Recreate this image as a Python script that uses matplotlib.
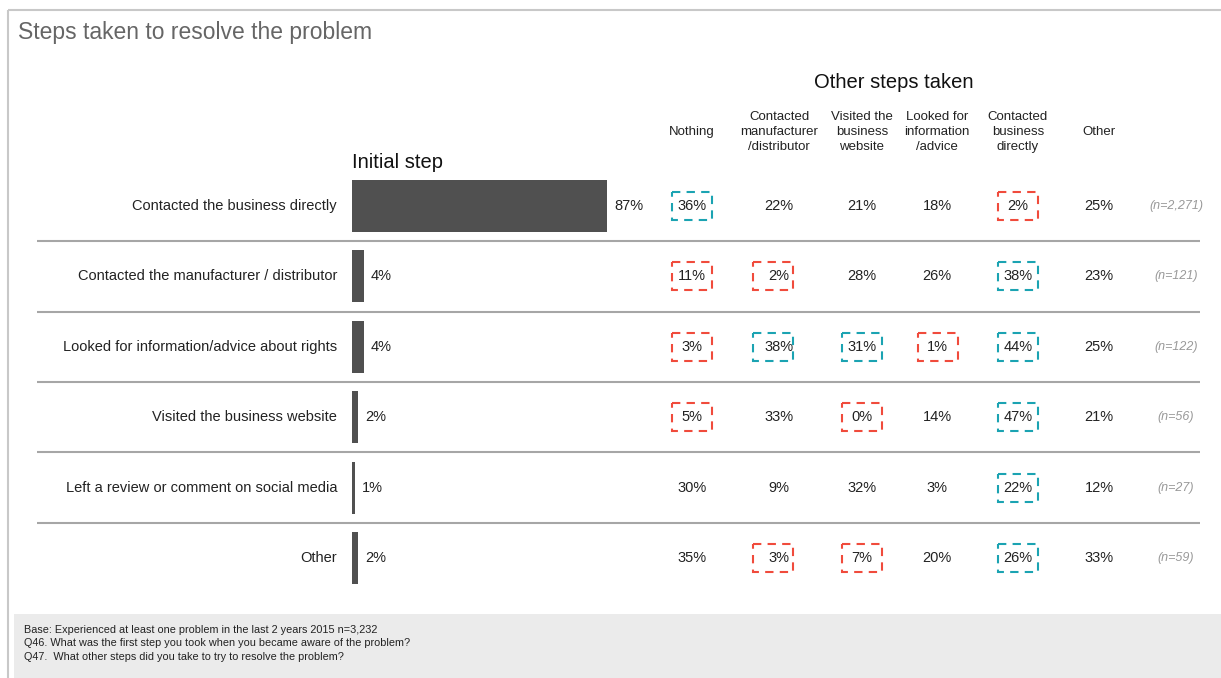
import numpy as np
import matplotlib.pyplot as plt
from matplotlib.patches import Rectangle

plt.rcParams['font.family'] = ['Liberation Sans', 'DejaVu Sans']

# data
initial_steps = ["Contacted the business directly",
                 "Contacted the manufacturer / distributor",
                 "Looked for information/advice about rights",
                 "Visited the business website",
                 "Left a review or comment on social media",
                 "Other"]
initial_pct = [87, 4, 4, 2, 1, 2]

other_cols = ["Nothing",
              "Contacted\nmanufacturer\n/distributor",
              "Visited the\nbusiness\nwebsite",
              "Looked for\ninformation\n/advice",
              "Contacted\nbusiness\ndirectly",
              "Other"]
other_pct = [[36, 22, 21, 18, 2, 25],
             [11, 2, 28, 26, 38, 23],
             [3, 38, 31, 1, 44, 25],
             [5, 33, 0, 14, 47, 21],
             [30, 9, 32, 3, 22, 12],
             [35, 3, 7, 20, 26, 33]]
# highlight: 1 = higher (teal), -1 = lower (red), 0 = none
highlight = [[1, 0, 0, 0, -1, 0],
             [-1, -1, 0, 0, 1, 0],
             [-1, 1, 1, -1, 1, 0],
             [-1, 0, -1, 0, 1, 0],
             [0, 0, 0, 0, 1, 0],
             [0, -1, -1, 0, 1, 0]]
base_n = ["(n=2,271)", "(n=121)", "(n=122)", "(n=56)", "(n=27)", "(n=59)"]

footnotes = ["Base: Experienced at least one problem in the last 2 years 2015 n=3,232",
             "Q46. What was the first step you took when you became aware of the problem?",
             "Q47.  What other steps did you take to try to resolve the problem?"]

W, H = 1221, 678
fig = plt.figure(figsize=(W / 100, H / 100), dpi=100)

# overlay axes in pixel coordinates for the layout
ax = fig.add_axes([0, 0, 1, 1])
ax.set_xlim(0, W)
ax.set_ylim(H, 0)
ax.axis('off')

# row layout
row0, dy = 206, 70.4
row_y = [row0 + i * dy for i in range(len(initial_steps))]

# bar axes: x in percent, y in row index
bar_left, px_per_pct = 352, 2.93
top_px = row0 - dy / 2
bot_px = row_y[-1] + dy / 2
bax = fig.add_axes([bar_left / W, 1 - bot_px / H, 100 * px_per_pct / W, (bot_px - top_px) / H])
bax.set_xlim(0, 100)
bax.set_ylim(len(initial_steps) - 0.5, -0.5)
bax.axis('off')
bax.barh(np.arange(len(initial_pct)), initial_pct, height=0.74, color='#505050')
for i, v in enumerate(initial_pct):
    bax.text(v + 2.4, i, f"{v}%", va='center', ha='left', fontsize=10.5, color='#222222')

# frame and footer
ax.plot([8, W], [10, 10], color='#C8C8C8', lw=1.5, solid_capstyle='butt')
ax.plot([8, 8], [10, H], color='#C8C8C8', lw=1.5, solid_capstyle='butt')
ax.add_patch(Rectangle((14, 614), W - 14, H - 614, color='#EBEBEB', lw=0))
for k, line in enumerate(footnotes):
    ax.text(24, 630 + k * 13.5, line, fontsize=7.8, color='#222222', va='center', ha='left')

# titles
ax.text(18, 32, "Steps taken to resolve the problem", fontsize=16.5, color='#666666',
        va='center', ha='left')
ax.text(894, 82, "Other steps taken", fontsize=14.5, color='#111111', va='center', ha='center')
ax.text(352, 162, "Initial step", fontsize=14.5, color='#111111', va='center', ha='left')

# column headers
col_x = [692, 779, 862, 937, 1018, 1099]
box_dx = [0, -6, 0, 1, 0, 0]
n_x = 1176
for x, lab in zip(col_x, other_cols):
    ax.text(x, 132, lab, fontsize=9.5, color='#222222', va='center', ha='center',
            linespacing=1.3)

# separators
for i in range(len(row_y) - 1):
    ym = (row_y[i] + row_y[i + 1]) / 2
    ax.plot([37, 1200], [ym, ym], color='#A6A6A6', lw=1.5, solid_capstyle='butt')

# rows
for i, y in enumerate(row_y):
    ax.text(337, y, initial_steps[i], fontsize=10.5, color='#222222', va='center', ha='right')
    for j, x in enumerate(col_x):
        ax.text(x, y, f"{other_pct[i][j]}%", fontsize=10.5, color='#222222',
                va='center', ha='center')
        h = highlight[i][j]
        if h != 0:
            c = '#1BA3B2' if h > 0 else '#F04B3C'
            bx = x + box_dx[j]
            ax.add_patch(Rectangle((bx - 20, y - 14), 40, 28, fill=False, edgecolor=c,
                                   lw=1.5, linestyle=(0, (4, 3))))
    ax.text(n_x, y, base_n[i], fontsize=9, color='#999999', style='italic',
            va='center', ha='center')

fig.savefig("out.png", dpi=100)
